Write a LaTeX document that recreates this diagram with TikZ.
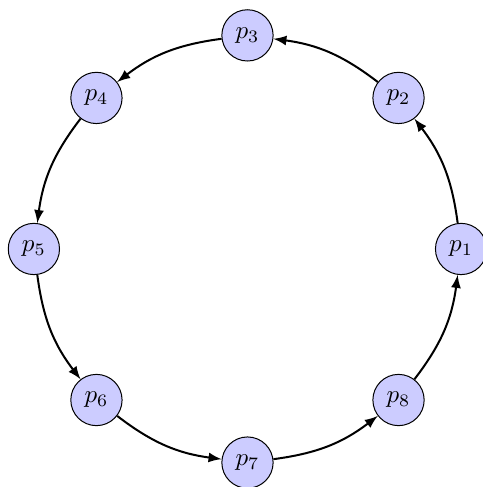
\documentclass[tikz,border=0pt]{standalone}
\usepackage{amsmath}
\usepackage{amssymb}
\usepackage{tikz}
\usetikzlibrary{arrows}

\begin{document}
\begin{tikzpicture}[
	proc/.style={circle, draw, fill=blue!20, minimum size=7.2mm, inner sep=0pt},
	ring/.style={->, >=latex, thick, bend right=15}
	]
	\useasboundingbox (-3.476,-3.343) rectangle (3.307,3.497);
	
	% Processes on the ring
	\foreach \i in {1,...,8}
	\node[proc] (p\i) at ({(\i-1)*45}:3) {$p_{\i}$};
	
	% Ring edges
	\foreach \i [evaluate=\i as \j using {int(mod(\i,8)+1)}] in {1,...,8}
	\draw[ring] (p\i) to (p\j);
\end{tikzpicture}
\end{document}
